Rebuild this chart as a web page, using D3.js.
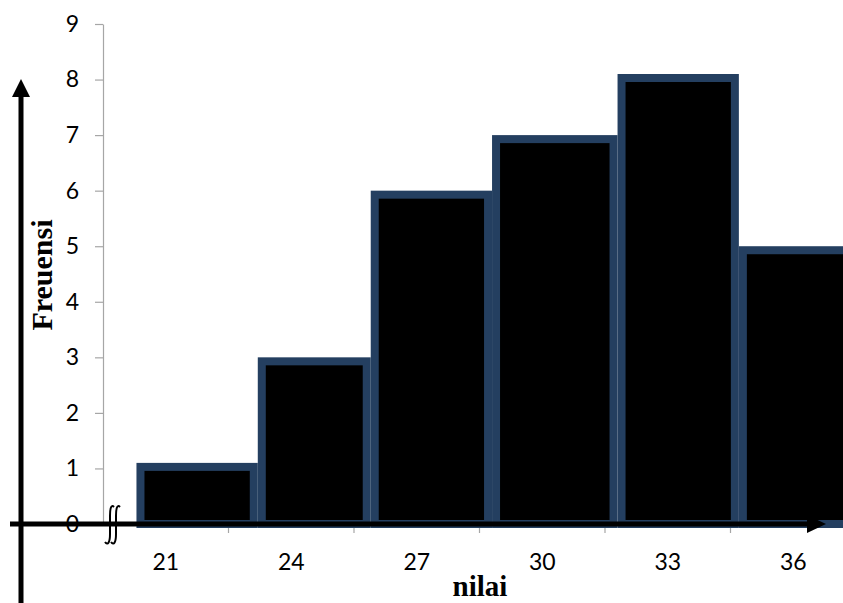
<!DOCTYPE html>
<html><head><meta charset="utf-8">
<script src="https://cdn.jsdelivr.net/npm/d3@7"></script>
<style>body{margin:0;background:#fff}svg{display:block}</style>
</head><body>
<svg id="c" width="843" height="603"></svg>
<script>
const categories = ["21","24","27","30","33","36"];
const frequencies = [1.1, 3, 6, 7, 8.1, 5];
const classEdges = [20.3, 23.2, 25.9, 28.8, 31.8, 34.7, 37.5];
const yTicks = [0,1,2,3,4,5,6,7,8,9];
const xTitle = "nilai";
const yTitle = "Freuensi";

const svg = d3.select("#c");
const y = d3.scaleLinear().domain([0, 9]).range([524, 24]);
const xBand = d3.scaleBand().domain(categories).range([103, 856]).padding(0);
const xv = d3.scaleLinear().domain([21, 36]).range([xBand("21") + xBand.bandwidth()/2, xBand("36") + xBand.bandwidth()/2]);

// y axis (gray)
const yAxis = d3.axisLeft(y).tickValues(yTicks).tickSize(8).tickSizeOuter(0).tickPadding(16);
const gy = svg.append("g").attr("transform", "translate(103,0)").call(yAxis);
gy.selectAll("path,line").attr("stroke", "#a6a6a6").attr("stroke-width", 1.2);
gy.selectAll("text").attr("font-family", "Lato, 'Open Sans', sans-serif").attr("font-size", 23).attr("fill", "#000");

// x ticks at band boundaries (gray)
const xTickPos = categories.map(c => xBand(c) + xBand.bandwidth());
svg.append("g").selectAll("line").data(xTickPos).join("line")
  .attr("x1", d => d).attr("x2", d => d).attr("y1", 526).attr("y2", 533)
  .attr("stroke", "#a6a6a6").attr("stroke-width", 1.2);

// bars
const sw = 8;
svg.append("g").selectAll("rect").data(frequencies).join("rect")
  .attr("x", (d, i) => xv(classEdges[i]) + sw/2)
  .attr("y", d => y(d) + sw/2)
  .attr("width", (d, i) => xv(classEdges[i+1]) - xv(classEdges[i]) - sw)
  .attr("height", d => y(0) - y(d) - sw/2)
  .attr("fill", "#000")
  .attr("stroke", "#243f60")
  .attr("stroke-width", sw);

// x labels
svg.append("g").selectAll("text").data(categories).join("text")
  .attr("x", d => xBand(d) + xBand.bandwidth()/2)
  .attr("y", 570)
  .attr("text-anchor", "middle")
  .attr("font-family", "Lato, 'Open Sans', sans-serif")
  .attr("font-size", 23)
  .attr("fill", "#000")
  .text(d => d);

// black axes with arrows
svg.append("line").attr("x1", 10).attr("x2", 812).attr("y1", 524).attr("y2", 524)
  .attr("stroke", "#000").attr("stroke-width", 5);
svg.append("path").attr("d", "M807,515 L826,524 L807,533 Z").attr("fill", "#000");
svg.append("line").attr("x1", 21).attr("x2", 21).attr("y1", 603).attr("y2", 94)
  .attr("stroke", "#000").attr("stroke-width", 5);
svg.append("path").attr("d", "M12,97 L21,79 L30,97 Z").attr("fill", "#000");

// break symbol (two integral-like strokes)
svg.append("g").selectAll("path").data([0, 6]).join("path")
  .attr("d", dx => `M${114+dx},507 C${111+dx},504 ${110+dx},509 ${110+dx},516 L${110+dx},534 C${110+dx},542 ${108+dx},546 ${105+dx},542`)
  .attr("fill", "none").attr("stroke", "#000").attr("stroke-width", 2);

// titles
svg.append("text").attr("x", 480).attr("y", 596).attr("text-anchor", "middle")
  .attr("font-family", "'Liberation Serif', 'Times New Roman', serif")
  .attr("font-weight", "bold").attr("font-size", 29).text(xTitle);
svg.append("text").attr("transform", "translate(52,275) rotate(-90)").attr("text-anchor", "middle")
  .attr("font-family", "'Liberation Serif', 'Times New Roman', serif")
  .attr("font-weight", "bold").attr("font-size", 30).text(yTitle);
</script>
</body></html>
